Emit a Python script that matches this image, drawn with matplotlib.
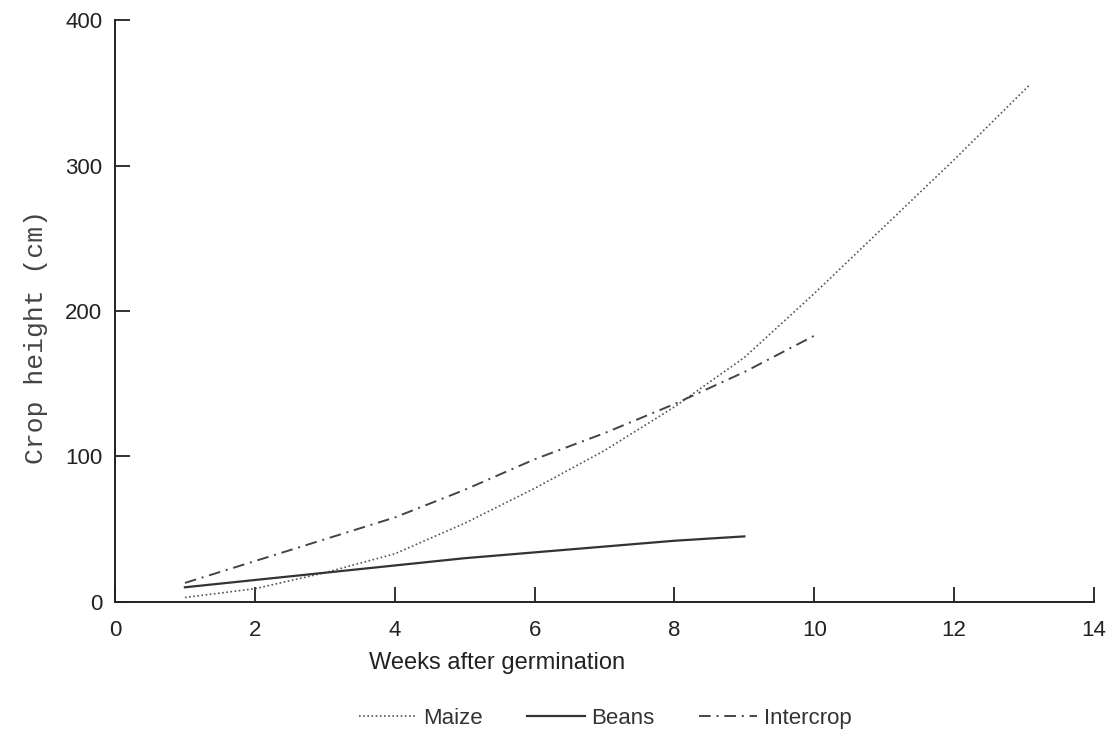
import numpy as np
import matplotlib.pyplot as plt

plt.rcParams['font.family'] = ['Liberation Sans', 'DejaVu Sans']

# weeks after germination and crop heights (cm)
maize_wk = [1, 2, 3, 4, 5, 6, 7, 8, 9, 10, 11, 12, 13.07]
maize_h = [3, 9, 20, 33, 54, 78, 104, 134, 168, 212, 258, 304, 355]
beans_wk = [1, 2, 3, 4, 5, 6, 7, 8, 9]
beans_h = [10, 15, 20, 25, 30, 34, 38, 42, 45]
inter_wk = [1, 2, 3, 4, 5, 6, 7, 8, 9, 10]
inter_h = [13, 28, 43, 58, 77, 98, 116, 136, 158, 183]

xticks = [0, 2, 4, 6, 8, 10, 12, 14]
yticks = [0, 100, 200, 300, 400]

fig = plt.figure(figsize=(11.1, 7.43), dpi=100)
ax = fig.add_axes([0.1036, 0.19, 0.882, 0.783])

ax.plot(maize_wk, maize_h, color='#555555', lw=1.2, ls=(0, (1, 1.5)), label='Maize')
ax.plot(beans_wk, beans_h, color='#333333', lw=1.6, ls='-', label='Beans')
ax.plot(inter_wk, inter_h, color='#444444', lw=1.4, ls=(0, (6, 3, 1, 3)), label='Intercrop')

ax.set_xlim(0, 14)
ax.set_ylim(0, 400)
ax.set_xticks(xticks)
ax.set_yticks(yticks)
ax.tick_params(direction='in', length=11, width=1.3, labelsize=16, colors='#222222')
ax.tick_params(axis='x', pad=13)
ax.tick_params(axis='y', pad=9)
for s in ['top', 'right']:
    ax.spines[s].set_visible(False)
for s in ['left', 'bottom']:
    ax.spines[s].set_linewidth(1.4)
    ax.spines[s].set_color('#222222')

ax.set_ylabel('Crop height (cm)', family='Liberation Mono', fontsize=19, color='#444444')
ax.yaxis.set_label_coords(-0.068, 0.455)
fig.text(0.448, 0.108, 'Weeks after germination', ha='center', va='center', fontsize=17, color='#222222')

fig.legend(loc='center', bbox_to_anchor=(0.545, 0.033), ncol=3, frameon=False, fontsize=16,
           handlelength=2.6, columnspacing=2.0, handletextpad=0.3, labelcolor='#333333')

fig.savefig('out.png', dpi=100, facecolor='white')
